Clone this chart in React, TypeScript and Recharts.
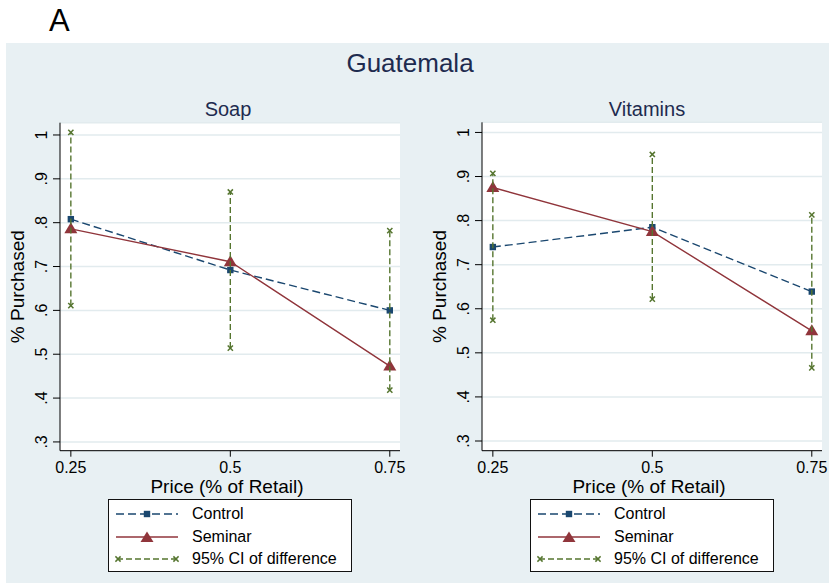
import React from 'react'
import { ComposedChart, Line, Scatter, XAxis, YAxis, CartesianGrid } from 'recharts'

// prices on the x axis (share of retail price)
const prices = [0.25, 0.5, 0.75]
const priceTicks = [0.25, 0.5, 0.75]
const shareTicks = [0.3, 0.4, 0.5, 0.6, 0.7, 0.8, 0.9, 1]

// Soap
const soapControl = [0.808, 0.692, 0.6]
const soapSeminar = [0.786, 0.711, 0.473]
const soapCiLow = [0.611, 0.514, 0.418]
const soapCiHigh = [1.006, 0.87, 0.782]

// Vitamins
const vitControl = [0.74, 0.785, 0.639]
const vitSeminar = [0.875, 0.775, 0.55]
const vitCiLow = [0.574, 0.622, 0.466]
const vitCiHigh = [0.907, 0.95, 0.813]

const NAVY = '#1a476f'
const MAROON = '#90353b'
const GREEN = '#55752f'
const BG = '#e8f0f3'
const TITLE = '#1e2b4f'
const FONT = '"Liberation Sans", Arial, Helvetica, sans-serif'

const SquareDot = (props: any) => {
  const { cx, cy } = props
  if (cx == null || cy == null) return null
  return <rect x={cx - 3.2} y={cy - 3.2} width={6.4} height={6.4} fill={NAVY} />
}

const TriangleDot = (props: any) => {
  const { cx, cy } = props
  if (cx == null || cy == null) return null
  return <path d={`M${cx},${cy - 6.5} L${cx + 6.5},${cy + 4.5} L${cx - 6.5},${cy + 4.5} Z`} fill={MAROON} />
}

const XMark = (props: any) => {
  const { cx, cy } = props
  if (cx == null || cy == null) return null
  const s = 2.6
  return (
    <g stroke={GREEN} strokeWidth={1.5}>
      <line x1={cx - s} y1={cy - s} x2={cx + s} y2={cy + s} />
      <line x1={cx - s} y1={cy + s} x2={cx + s} y2={cy - s} />
    </g>
  )
}

// y tick labels are turned on their side, as Stata does
const SideTick = (props: any) => {
  const { x, y, payload } = props
  const v = payload.value
  const label = v >= 1 ? '1' : '.' + Math.round(v * 10)
  const bx = x - 4
  return (
    <text x={bx} y={y} transform={`rotate(-90 ${bx} ${y})`} textAnchor="middle" fontSize={16} fill="#000" fontFamily={FONT}>
      {label}
    </text>
  )
}

interface PanelProps {
  left: number
  width: number
  marginTop: number
  marginRight: number
  yDomain: [number, number]
  control: number[]
  seminar: number[]
  ciLow: number[]
  ciHigh: number[]
}

function Panel({ left, width, marginTop, marginRight, yDomain, control, seminar, ciLow, ciHigh }: PanelProps) {
  const rows = prices.map((p, i) => ({ price: p, control: control[i], seminar: seminar[i] }))

  return (
    <div style={{ position: 'absolute', left, top: 90 }}>
      <ComposedChart width={width} height={420} data={rows} margin={{ top: marginTop, right: marginRight, left: 15, bottom: 17.3 }}>
        <CartesianGrid vertical={false} fill="#fff" stroke="#e2ebee" strokeWidth={1.5} />
        <XAxis
          dataKey="price"
          type="number"
          domain={[0.233, 0.766]}
          allowDataOverflow
          ticks={priceTicks}
          tickFormatter={(v) => String(v)}
          height={42}
          tickSize={6}
          tickMargin={5}
          stroke="#000"
          tick={{ fontSize: 16, fill: '#000', fontFamily: FONT }}
          label={{ value: 'Price (% of Retail)', position: 'insideBottom', offset: 0, dx: -3, fontSize: 19, fill: '#000', fontFamily: FONT }}
        />
        <YAxis
          type="number"
          domain={yDomain}
          allowDataOverflow
          ticks={shareTicks}
          width={45}
          tickSize={7}
          stroke="#000"
          tick={<SideTick />}
          label={{ value: '% Purchased', angle: -90, position: 'insideLeft', offset: 2, style: { textAnchor: 'middle' }, fontSize: 19, fill: '#000', fontFamily: FONT }}
        />
        <Line
          dataKey="control"
          type="linear"
          stroke={NAVY}
          strokeWidth={1.4}
          strokeDasharray="8 4"
          dot={<SquareDot />}
          activeDot={false}
          isAnimationActive={false}
        />
        <Line
          dataKey="seminar"
          type="linear"
          stroke={MAROON}
          strokeWidth={1.4}
          dot={<TriangleDot />}
          activeDot={false}
          isAnimationActive={false}
        />
        {prices.map((p, i) => (
          <Scatter
            key={p}
            data={[{ price: p, ci: ciLow[i] }, { price: p, ci: ciHigh[i] }]}
            dataKey="ci"
            line={{ stroke: GREEN, strokeWidth: 1.4, strokeDasharray: '6 3' }}
            shape={<XMark />}
            isAnimationActive={false}
          />
        ))}
      </ComposedChart>
    </div>
  )
}

function LegendBox({ left }: { left: number }) {
  const row = { display: 'flex', alignItems: 'center', height: 22.5 }
  const text = { marginLeft: 13, fontSize: 16, color: '#000' }
  return (
    <div
      style={{
        position: 'absolute',
        left,
        top: 499,
        width: 244,
        height: 73,
        boxSizing: 'border-box',
        border: '1.5px solid #111',
        background: '#fff',
        padding: '3px 0 0 6px',
      }}
    >
      <div style={row}>
        <svg width={64} height={14}>
          <line x1={1} y1={7} x2={63} y2={7} stroke={NAVY} strokeWidth={1.4} strokeDasharray="8 4" />
          <rect x={28.8} y={3.8} width={6.4} height={6.4} fill={NAVY} />
        </svg>
        <span style={text}>Control</span>
      </div>
      <div style={row}>
        <svg width={64} height={14}>
          <line x1={1} y1={7} x2={63} y2={7} stroke={MAROON} strokeWidth={1.4} />
          <path d="M32,1.5 L38.5,12 L25.5,12 Z" fill={MAROON} />
        </svg>
        <span style={text}>Seminar</span>
      </div>
      <div style={row}>
        <svg width={64} height={14}>
          <line x1={2} y1={7} x2={62} y2={7} stroke={GREEN} strokeWidth={1.4} strokeDasharray="6 3" />
          <XMark cx={3} cy={7} />
          <XMark cx={61} cy={7} />
        </svg>
        <span style={text}>95% CI of difference</span>
      </div>
    </div>
  )
}

export default function App() {
  const heading = (txt: string, x: number, top: number, size: number, color: string) => (
    <div
      style={{
        position: 'absolute',
        left: x,
        top,
        transform: 'translateX(-50%)',
        fontSize: size,
        lineHeight: 1,
        color,
        whiteSpace: 'nowrap',
      }}
    >
      {txt}
    </div>
  )

  return (
    <div
      style={{
        position: 'absolute',
        left: 0,
        top: 0,
        width: 830,
        height: 583,
        overflow: 'hidden',
        background: '#fff',
        fontFamily: FONT,
      }}
    >
      <div style={{ position: 'absolute', left: 6, top: 43, width: 823, height: 540, background: BG }} />
      <div style={{ position: 'absolute', left: 49, top: 4.5, fontSize: 31, lineHeight: 1, color: '#000' }}>A</div>
      {heading('Guatemala', 410, 50, 26, TITLE)}
      {heading('Soap', 228, 99, 20, TITLE)}
      {heading('Vitamins', 647, 99, 20, TITLE)}

      <Panel
        left={0}
        width={420}
        marginTop={32.7}
        marginRight={20}
        yDomain={[0.28, 1.028]}
        control={soapControl}
        seminar={soapSeminar}
        ciLow={soapCiLow}
        ciHigh={soapCiHigh}
      />
      <Panel
        left={422}
        width={418}
        marginTop={32.3}
        marginRight={18}
        yDomain={[0.278, 1.023]}
        control={vitControl}
        seminar={vitSeminar}
        ciLow={vitCiLow}
        ciHigh={vitCiHigh}
      />

      <LegendBox left={108} />
      <LegendBox left={530} />
    </div>
  )
}
